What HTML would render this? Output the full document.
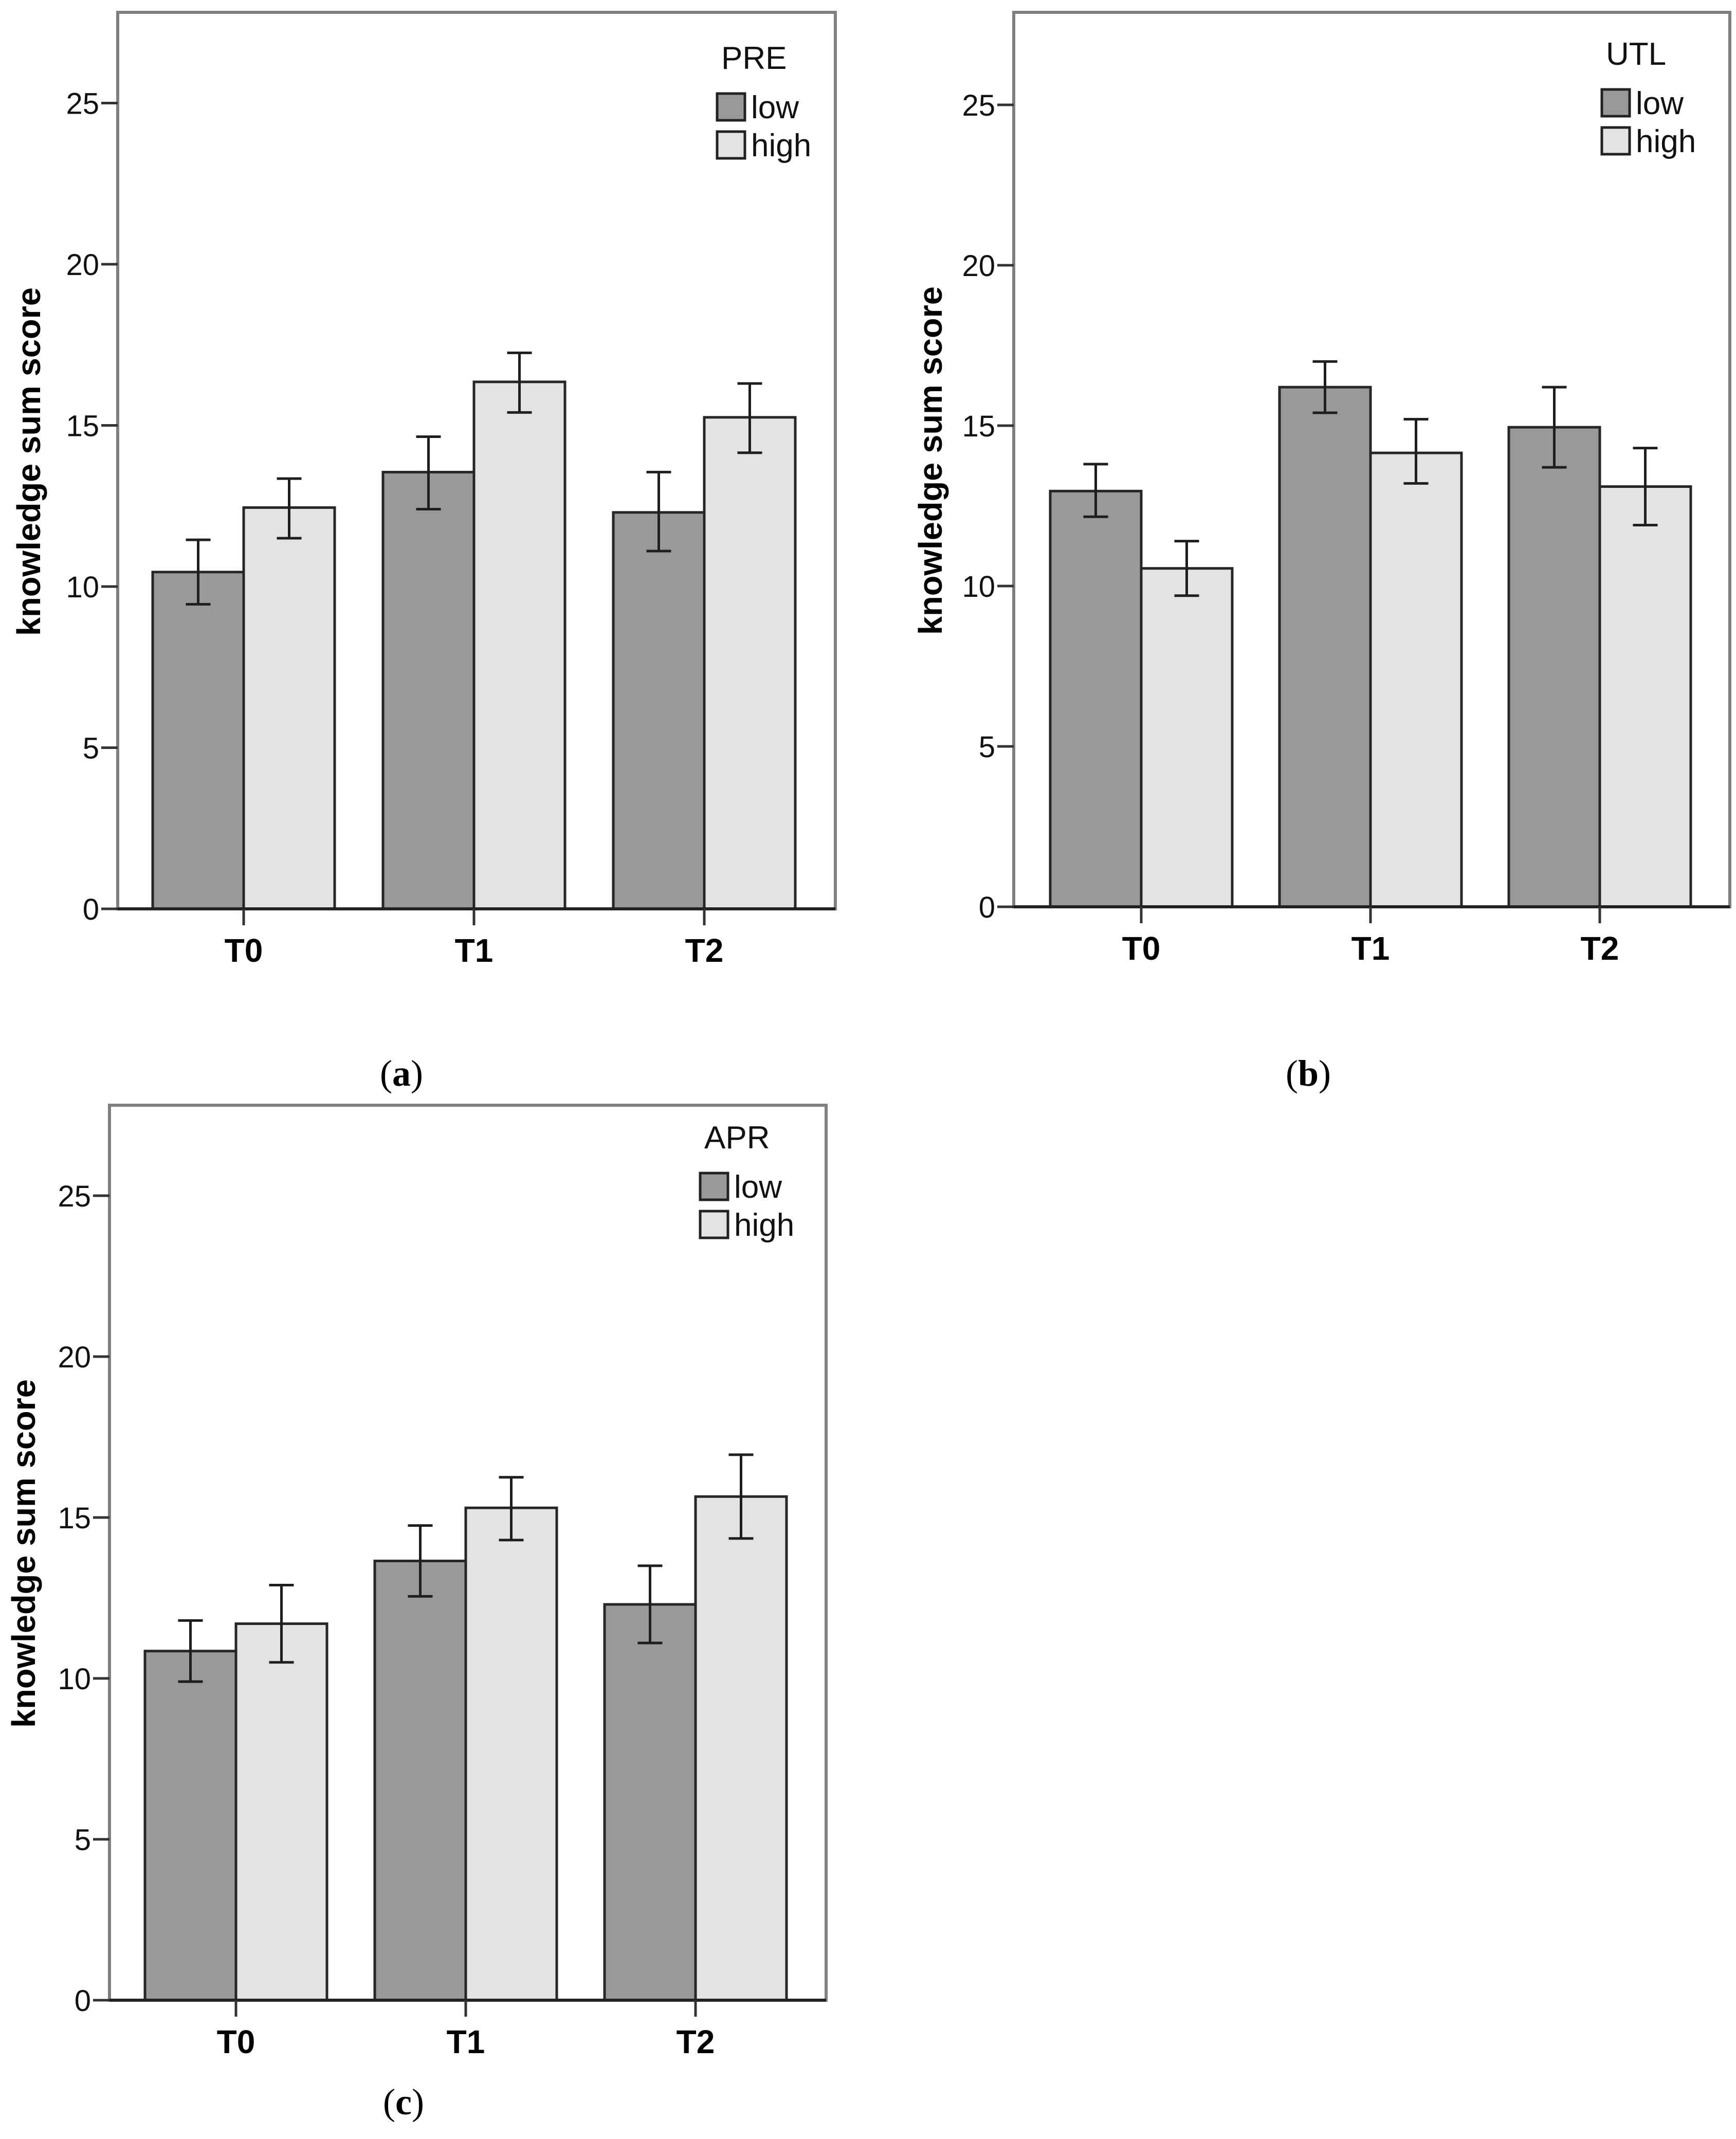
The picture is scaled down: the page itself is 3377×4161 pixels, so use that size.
<!DOCTYPE html>
<html><head><meta charset="utf-8"><style>
html,body{margin:0;padding:0;background:#fff;}
svg{display:block;}
</style></head><body>
<svg id="fig" width="3377" height="4161" viewBox="0 0 3377 4161" xmlns="http://www.w3.org/2000/svg"></svg>
<script>
const categories = ["T0", "T1", "T2"];
const yTicks = [0, 5, 10, 15, 20, 25];
const legendLabels = ["low", "high"];
// Panel (a) PRE
const preLow = [10.45, 13.55, 12.3];
const preHigh = [12.45, 16.35, 15.25];
const preLowErrLo = [9.45, 12.4, 11.1];
const preLowErrHi = [11.45, 14.65, 13.55];
const preHighErrLo = [11.5, 15.4, 14.15];
const preHighErrHi = [13.35, 17.25, 16.3];
// Panel (b) UTL
const utlLow = [12.96, 16.2, 14.95];
const utlHigh = [10.55, 14.15, 13.1];
const utlLowErrLo = [12.16, 15.4, 13.7];
const utlLowErrHi = [13.8, 17.0, 16.2];
const utlHighErrLo = [9.7, 13.2, 11.9];
const utlHighErrHi = [11.4, 15.2, 14.3];
// Panel (c) APR
const aprLow = [10.85, 13.65, 12.3];
const aprHigh = [11.7, 15.3, 15.65];
const aprLowErrLo = [9.9, 12.55, 11.1];
const aprLowErrHi = [11.8, 14.75, 13.5];
const aprHighErrLo = [10.5, 14.3, 14.35];
const aprHighErrHi = [12.9, 16.25, 16.95];

const NS = "http://www.w3.org/2000/svg";
const svg = document.getElementById("fig");
function mk(tag, attrs, parent, text) {
  const e = document.createElementNS(NS, tag);
  for (const k in attrs) e.setAttribute(k, attrs[k]);
  if (text !== undefined) e.textContent = text;
  parent.appendChild(e);
  return e;
}

function panel(p) {
  const g = mk("g", {}, svg);
  
  
  const unit = p.unit;
  const y = v => p.y0 - v * unit;
  const x = i => p.c0 + i * p.spacing;
  const bw = p.bw;
  const fr = mk("rect", {x: p.left, y: p.top, width: p.right - p.left, height: p.y0 - p.top, fill: "none", stroke: "#808080", "stroke-width": 6}, g);
  
  
  yTicks.forEach(t => {
    const tl = mk("line", {x1: p.left - 32, x2: p.left, y1: y(t), y2: y(t), stroke: "#333", "stroke-width": 5}, g);
    
    
    const tx = mk("text", {x: p.left - 36, y: y(t) + 21, "text-anchor": "end", "font-family": "Liberation Sans, sans-serif", "font-size": 58, fill: "#111"}, g, String(t));
    
    
  });
  const series = [[p.low, "#999999", p.lowLo, p.lowHi], [p.high, "#e3e3e3", p.highLo, p.highHi]];
  categories.forEach((c, i) => {
    series.forEach((s, si) => {
      const bx = si === 0 ? x(i) - bw : x(i);
      const r = mk("rect", {x: bx, y: y(s[0][i]), width: bw, height: s[0][i] * unit, fill: s[1], stroke: "#262626", "stroke-width": 5}, g);
      
      
    });
  });
  const ax = mk("line", {x1: p.left, x2: p.right, y1: p.y0, y2: p.y0, stroke: "#222", "stroke-width": 6}, g);
  
  
  categories.forEach((c, i) => {
    const tk = mk("line", {x1: x(i), x2: x(i), y1: p.y0, y2: p.y0 + 32, stroke: "#333", "stroke-width": 5}, g);
    
    
    const lb = mk("text", {x: x(i), y: p.y0 + 103, "text-anchor": "middle", "font-family": "Liberation Sans, sans-serif", "font-weight": "bold", "font-size": 64, fill: "#000"}, g, c);
    
    
  });
  categories.forEach((c, i) => {
    series.forEach((s, si) => {
      const cx = si === 0 ? x(i) - bw / 2 : x(i) + bw / 2;
      const eg = mk("g", {stroke: "#1e1e1e", "stroke-width": 5}, g);
      
      
      mk("line", {x1: cx, x2: cx, y1: y(s[2][i]), y2: y(s[3][i])}, eg);
      mk("line", {x1: cx - 24, x2: cx + 24, y1: y(s[2][i]), y2: y(s[2][i])}, eg);
      mk("line", {x1: cx - 24, x2: cx + 24, y1: y(s[3][i]), y2: y(s[3][i])}, eg);
    });
  });
  const yt = mk("text", {x: 0, y: 0, transform: "translate(" + p.titleX + "," + p.titleY + ") rotate(-90)", "text-anchor": "middle", "font-family": "Liberation Sans, sans-serif", "font-weight": "bold", "font-size": 64, fill: "#000", textLength: 678, lengthAdjust: "spacingAndGlyphs"}, g, "knowledge sum score");
  
  
  const lg = mk("g", {}, g);
  
  
  const lt = mk("text", {x: p.legX + 8, y: p.legY, "font-family": "Liberation Sans, sans-serif", "font-size": 62, fill: "#111"}, lg, p.name);
  
  
  legendLabels.forEach((l, k) => {
    const sy = p.legY + 48 + k * 74;
    const sw = mk("rect", {x: p.legX, y: sy, width: 54, height: 52, fill: k === 0 ? "#999999" : "#e3e3e3", stroke: "#222", "stroke-width": 5}, lg);
    
    
    const st = mk("text", {x: p.legX + 66, y: sy + 48, "font-family": "Liberation Sans, sans-serif", "font-size": 62, fill: "#111"}, lg, l);
    
    
  });
  const cap = mk("text", {x: p.capX, y: p.capY, "text-anchor": "middle", "font-family": "Liberation Serif, serif", "font-size": 72, fill: "#000"}, g);
  
  
  mk("tspan", {}, cap, "(");
  mk("tspan", {"font-weight": "bold"}, cap, p.id);
  mk("tspan", {}, cap, ")");
}

panel({id: "a", name: "PRE", left: 229, right: 1625, top: 24, y0: 1768, unit: 62.7, c0: 474, spacing: 448, bw: 177,
  low: preLow, high: preHigh, lowLo: preLowErrLo, lowHi: preLowErrHi, highLo: preHighErrLo, highHi: preHighErrHi,
  titleX: 78, titleY: 898, legX: 1395, legY: 134, capX: 781, capY: 2112});
panel({id: "b", name: "UTL", left: 1972, right: 3365, top: 24, y0: 1764, unit: 62.4, c0: 2220, spacing: 446, bw: 177,
  low: utlLow, high: utlHigh, lowLo: utlLowErrLo, lowHi: utlLowErrHi, highLo: utlHighErrLo, highHi: utlHighErrHi,
  titleX: 1832, titleY: 896, legX: 3116, legY: 126, capX: 2545, capY: 2112});
panel({id: "c", name: "APR", left: 213, right: 1607, top: 2150, y0: 3891, unit: 62.6, c0: 459, spacing: 447, bw: 177,
  low: aprLow, high: aprHigh, lowLo: aprLowErrLo, lowHi: aprLowErrHi, highLo: aprHighErrLo, highHi: aprHighErrHi,
  titleX: 68, titleY: 3022, legX: 1362, legY: 2234, capX: 785, capY: 4113});
</script>
</body></html>
